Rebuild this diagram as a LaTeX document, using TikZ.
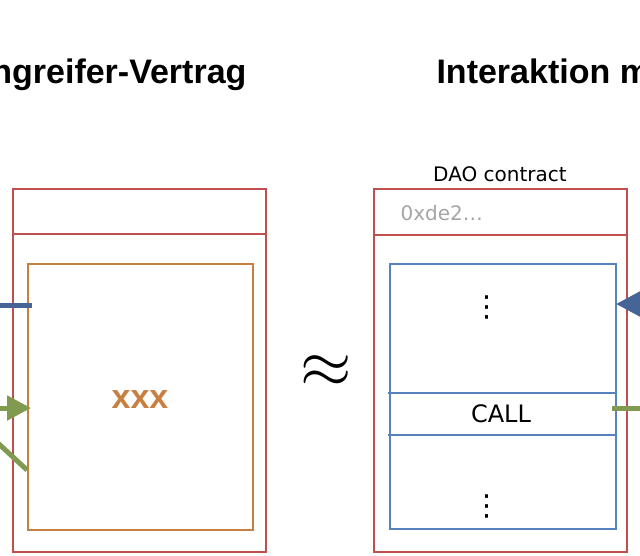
\documentclass[tikz,border=0pt]{standalone}
\usepackage{fontspec}
\setmainfont{DejaVu Sans}
\newfontfamily\titlefont{Liberation Sans}
\usetikzlibrary{arrows.meta}
\definecolor{daored}{RGB}{192,80,77}
\definecolor{daoorange}{RGB}{200,128,66}
\definecolor{daoblue}{RGB}{88,130,190}
\definecolor{arrowblue}{RGB}{70,100,150}
\definecolor{daogreen}{RGB}{128,155,80}
\definecolor{addrgray}{RGB}{165,165,165}
\tikzset{
  box/.style={draw, inner sep=0pt, outer sep=0pt, line width=2.5pt},
  title/.style={font=\titlefont\bfseries\fontsize{34}{40}\selectfont},
  flow/.style={line width=5pt},
  head/.style={-{Triangle[length=24pt,width=24pt]}},
  vdotsnode/.style={font=\fontsize{29}{30}\selectfont, inner sep=0pt},
}
\begin{document}
\begin{tikzpicture}[x=1pt,y=-1pt]
    \useasboundingbox (0,0) rectangle (640,555);
    \clip (0,0) rectangle (640,555);
    \node [title, anchor=base east] (attitle) at (250,83) {ngreifer-Vertrag};
    \node [title, anchor=base west] (daotitle) at (433,83) {Interaktion m};

    \node [box, daored, minimum width=253pt, minimum height=363pt] (attacker) at (139.5,370.5) {};
    \draw [daored, line width=2.5pt] (attacker.west |- 0,234) -- (attacker.east |- 0,234);
    \node [box, daoorange, minimum width=225pt, minimum height=266pt] (xxxbox) at (140.5,397) {};
    \node [title, text=daoorange] (xxx) at (140,400) {xxx};

    \node [scale=6.6] (approx) at (326,372) {$\approx$};

    \node [font=\fontsize{20}{24}\selectfont] (daolabel) at (500,174) {DAO contract};
    \node [box, daored, minimum width=253pt, minimum height=363pt] (dao) at (500.5,370.5) {};
    \draw [daored, line width=2.5pt] (dao.west |- 0,235) -- (dao.east |- 0,235);
    \node [anchor=west, text=addrgray, font=\fontsize{20}{24}\selectfont] (addr) at (397,213) {0xde2…};
    \node [box, daoblue, line width=2.2pt, minimum width=226pt, minimum height=265pt] (code) at (503,396.5) {};
    \draw [daoblue, line width=2.2pt] ([xshift=-2pt]code.west |- 0,393) -- (code.east |- 0,393);
    \draw [daoblue, line width=2.2pt] ([xshift=-2pt]code.west |- 0,435) -- (code.east |- 0,435);
    \node [font=\fontsize{24}{28}\selectfont] (call) at (501,414) {CALL};
    \node [vdotsnode] (dotstop) at (487,307) {⋮};
    \node [vdotsnode] (dotsbot) at (487,506) {⋮};

    \coordinate (blueR) at (665,304);
    \draw [arrowblue, flow, head] (blueR) -- (code.east |- blueR);
    \coordinate (greenR) at (665,408);
    \draw [daogreen, flow] ([xshift=-4pt]code.east |- greenR) -- (greenR);

    \coordinate (blueL) at (-10,305);
    \draw [arrowblue, flow] (blueL) -- ([xshift=4pt]xxxbox.west |- blueL);
    \coordinate (greenL) at (-10,408);
    \draw [daogreen, flow, head] (greenL) -- ([xshift=3pt]xxxbox.west |- greenL);
    \coordinate (greenD) at (-10,435.7);
    \draw [daogreen, flow] (greenD) -- ([xshift=-1pt]xxxbox.west |- 0,470);
  \end{tikzpicture}
\end{document}
